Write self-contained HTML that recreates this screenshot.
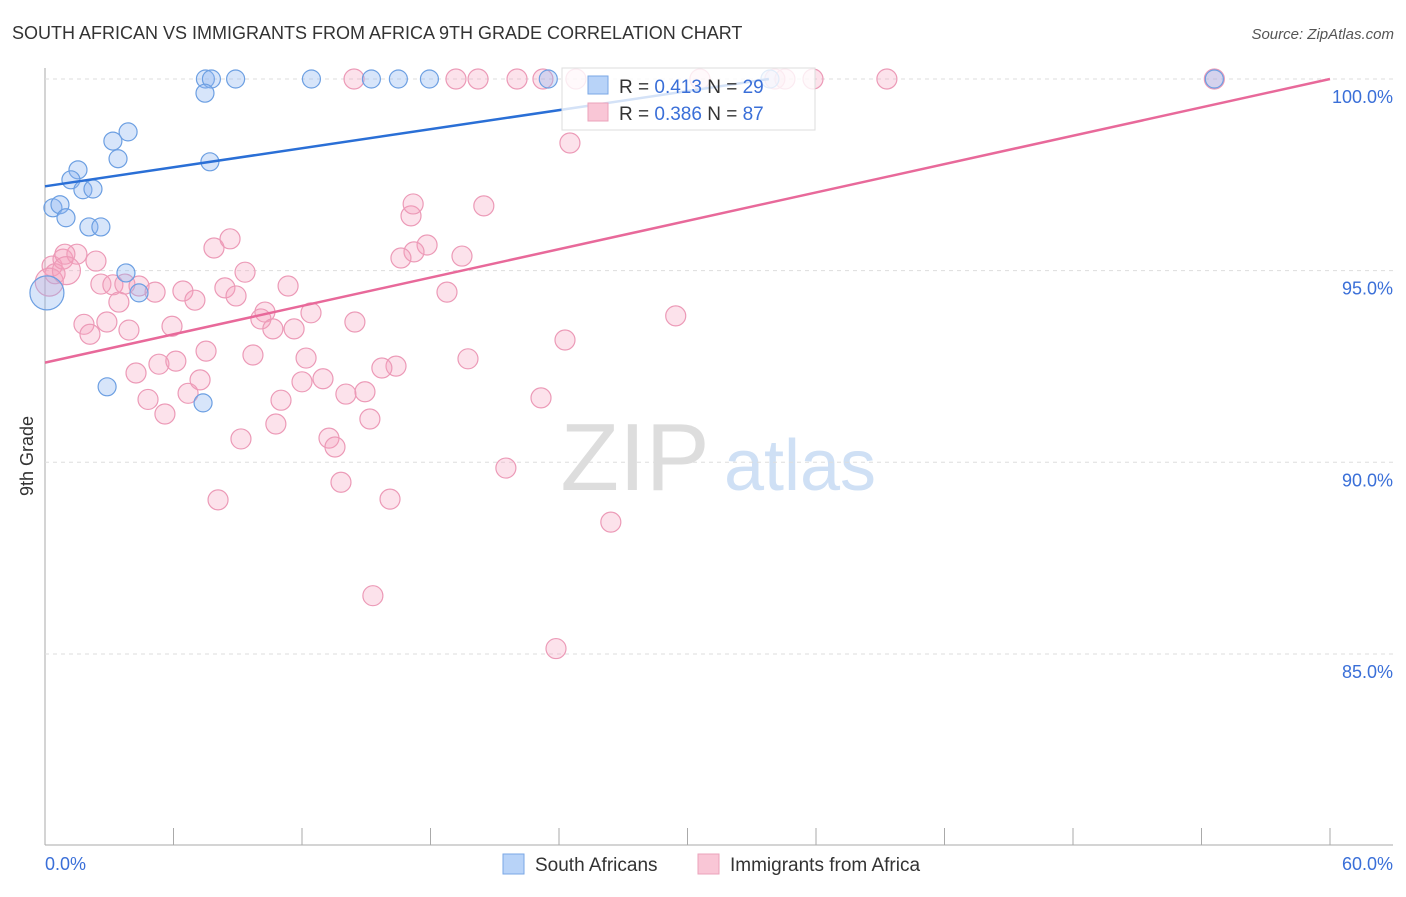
<!DOCTYPE html>
<html><head><meta charset="utf-8"><style>
body{margin:0;background:#fff;font-family:"Liberation Sans",sans-serif}
svg text{font-family:"Liberation Sans",sans-serif}
</style></head><body>
<svg id="c" width="1406" height="892">
<text x="12" y="39" font-size="18" fill="#333">SOUTH AFRICAN VS IMMIGRANTS FROM AFRICA 9TH GRADE CORRELATION CHART</text>
<text x="1394" y="39" font-size="15" fill="#555" font-style="italic" text-anchor="end">Source: ZipAtlas.com</text>
<text x="33" y="456" font-size="18" fill="#333" text-anchor="middle" transform="rotate(-90 33 456)">9th Grade</text>
<g><text x="635" y="490" font-size="96" fill="#ddd" font-family="Liberation Serif" text-anchor="middle">ZIP</text><text x="800" y="490" font-size="72" fill="#cfe0f5" text-anchor="middle">atlas</text></g>
<g id="grid"></g><g id="pts"></g><g id="lines"></g>
<g>
<rect x="562" y="68" width="253" height="62" fill="rgba(255,255,255,0.8)" stroke="#ddd"/>
<rect x="588" y="76" width="20" height="18" fill="#b8d3f8" stroke="#7aa7e6"/>
<rect x="588" y="103" width="20" height="18" fill="#f9c6d6" stroke="#eba3bb"/>
<text x="619" y="93" font-size="19" fill="#333">R = <tspan fill="#3a6fd8">0.413</tspan>   N = <tspan fill="#3a6fd8">29</tspan></text>
<text x="619" y="120" font-size="19" fill="#333">R = <tspan fill="#3a6fd8">0.386</tspan>   N = <tspan fill="#3a6fd8">87</tspan></text>
</g>
<g>
<rect x="503" y="854" width="21" height="20" fill="#b8d3f8" stroke="#7aa7e6"/>
<text x="535" y="871" font-size="19" fill="#333">South Africans</text>
<rect x="698" y="854" width="21" height="20" fill="#f9c6d6" stroke="#eba3bb"/>
<text x="730" y="871" font-size="19" fill="#333">Immigrants from Africa</text>
</g>
</svg>
<script>
const yTicks=[100,95,90,85];
const xTickLabels=["0.0%","60.0%"];
const blueX=[7.49,7.77,8.9,12.44,15.24,16.5,17.95,23.5,54.6,7.47,3.88,3.17,7.7,3.41,1.54,1.21,1.77,2.24,0.37,0.7,0.98,2.05,2.61,3.78,4.39,0.09,2.9,7.38,33.85];
const blueY=[100,100,100,100,100,100,100,100,100,99.63,98.62,98.38,97.84,97.92,97.63,97.37,97.11,97.13,96.64,96.72,96.38,96.14,96.14,94.94,94.42,94.42,91.97,91.55,100];
const pinkX=[14.43,19.19,20.22,22.04,23.25,24.79,30.58,34.08,34.55,35.86,39.31,54.6,24.51,17.09,17.19,20.49,17.84,17.23,16.62,19.47,18.77,29.45,24.28,19.75,16.39,15.73,14.94,14.05,23.16,15.17,13.26,13.54,13.82,16.11,21.52,26.42,15.31,23.86,0.33,0.47,0.84,1.49,0.93,2.38,2.61,3.17,3.73,4.39,3.45,5.14,6.44,7.0,8.4,8.92,7.89,8.64,9.34,11.35,1.82,2.1,2.89,3.92,5.93,5.32,6.11,4.25,7.52,9.71,10.27,10.08,10.64,12.42,11.63,14.47,12.19,12.98,12.0,6.68,7.24,4.81,5.6,11.02,10.78,9.15,8.08,0.2,1.0];
const pinkY=[100,100,100,100,100,100,100,100,100,100,100,100,98.33,96.43,96.74,96.69,95.67,95.49,95.33,95.38,94.44,93.82,93.19,92.7,92.51,92.46,91.84,91.78,91.68,91.13,90.63,90.4,89.48,89.04,89.85,88.44,86.52,85.14,95.12,94.92,95.3,95.43,95.43,95.25,94.65,94.63,94.65,94.6,94.18,94.44,94.47,94.23,94.55,94.34,95.59,95.83,94.96,94.6,93.6,93.34,93.66,93.45,93.55,92.56,92.64,92.33,92.9,92.8,93.92,93.74,93.48,93.9,93.48,93.66,92.72,92.18,92.1,91.8,92.15,91.64,91.26,91.62,91.0,90.61,89.02,94.7,95.0];
const blueLine=[0,97.2,33.8,100];
const pinkLine=[0,92.6,60,100];
const X=v=>45+v/60*1285, Y=v=>79+(100-v)*38.33;
const NS="http://www.w3.org/2000/svg";
function mk(tag,attrs,parent){const e=document.createElementNS(NS,tag);for(const k in attrs)e.setAttribute(k,attrs[k]);parent.appendChild(e);return e;}
const g=document.getElementById('grid');
let a=mk('line',{x1:45,y1:68,x2:45,y2:845,stroke:'#aaa'},g);


a=mk('line',{x1:45,y1:845,x2:1393,y2:845,stroke:'#aaa'},g);


yTicks.forEach(t=>{
 const l=mk('line',{x1:45,y1:Y(t),x2:1393,y2:Y(t),stroke:'#ddd','stroke-dasharray':'4,4'},g);
 
 
 const tx=mk('text',{x:1393,y:Y(t)+24,'font-size':18,fill:'#3a6fd8','text-anchor':'end'},g);
 tx.textContent=t.toFixed(1)+'%';
 
 
});
for(let k=0;k<=10;k++){const l=mk('line',{x1:X(k*6),y1:828,x2:X(k*6),y2:845,stroke:'#aaa'},g);
 
 }
[[0,'start',45],[60,'end',1393]].forEach((p,i)=>{const t=mk('text',{x:p[2],y:870,'font-size':18,fill:'#3a6fd8','text-anchor':p[1]},g);t.textContent=xTickLabels[i];
 
 });
const P=document.getElementById('pts');
pinkX.forEach((x,i)=>{const r=(i>=85)?14:10;const c=mk('circle',{cx:X(x),cy:Y(pinkY[i]),r:r,fill:'rgba(244,160,190,0.3)',stroke:'#ec9ab7','stroke-width':1.2},P);
 
 });
blueX.forEach((x,i)=>{const r=(i==25)?17:9;const c=mk('circle',{cx:X(x),cy:Y(blueY[i]),r:r,fill:'rgba(140,180,240,0.35)',stroke:'#6c9fe2','stroke-width':1.2},P);
 
 });
const L=document.getElementById('lines');
a=mk('line',{x1:X(blueLine[0]),y1:Y(blueLine[1]),x2:X(blueLine[2]),y2:Y(blueLine[3]),stroke:'#2a6fd6','stroke-width':2.5},L);


a=mk('line',{x1:X(pinkLine[0]),y1:Y(pinkLine[1]),x2:X(pinkLine[2]),y2:Y(pinkLine[3]),stroke:'#e8699a','stroke-width':2.5},L);


</script>
</body></html>
